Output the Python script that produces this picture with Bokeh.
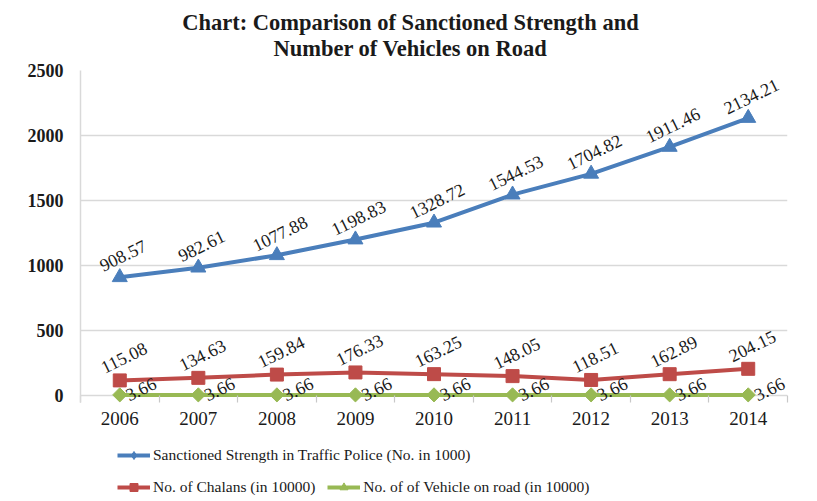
import numpy as np
from bokeh.plotting import figure
from bokeh.layouts import column
from bokeh.models import (ColumnDataSource, Range1d, FixedTicker, Label, Legend, LegendItem)
from bokeh.core.properties import value
from bokeh.embed import file_html
from bokeh.resources import INLINE

# ---- data ----
years = ["2006", "2007", "2008", "2009", "2010", "2011", "2012", "2013", "2014"]
sanctioned = [908.57, 982.61, 1077.88, 1198.83, 1328.72, 1544.53, 1704.82, 1911.46, 2134.21]
chalans = [115.08, 134.63, 159.84, 176.33, 163.25, 148.05, 118.51, 162.89, 204.15]
vehicles = [3.66, 3.66, 3.66, 3.66, 3.66, 3.66, 3.66, 3.66, 3.66]
y_ticks = [0, 500, 1000, 1500, 2000, 2500]
title_lines = ["Chart: Comparison of Sanctioned Strength and", "Number of Vehicles on Road"]
series_names = ["Sanctioned Strength in Traffic Police (No. in 1000)",
                "No. of Chalans (in 10000)",
                "No. of of Vehicle on road (in 10000)"]

BLUE = "#4a7ebb"
RED = "#be4b48"
GREEN = "#98b954"
SERIF = "Liberation Serif"
W = 817

xpos = list(range(1, len(years) + 1))
src = ColumnDataSource(dict(
    x=xpos, s=sanctioned, c=chalans, v=vehicles,
    s_lab=[f"{v:.2f}" for v in sanctioned],
    c_lab=[f"{v:.2f}" for v in chalans],
    v_lab=[f"{v:.2f}" for v in vehicles],
))


def blank_fig(h):
    f = figure(width=W, height=h, output_backend="svg", toolbar_location=None,
               x_axis_type=None, y_axis_type=None, min_border=0, title=None,
               x_range=Range1d(0, 1), y_range=Range1d(0, 1))
    f.outline_line_color = None
    f.grid.visible = False
    f.border_fill_color = "white"
    return f


# ---- title strip (frame aligned with main plot frame, left edge at 80px) ----
pt = blank_fig(62)
for i, t in enumerate(title_lines):
    pt.add_layout(Label(x=330, y=40 - 26 * i, x_units="screen", y_units="screen", text=t,
                        text_align="center", text_baseline="middle", text_font=SERIF,
                        text_font_style="bold", text_font_size="22.5px", text_color="#1a1a1a"))

# ---- main plot ----
p = figure(width=W, height=374, output_backend="svg", toolbar_location=None,
           x_range=Range1d(0.5, len(years) + 0.5), y_range=Range1d(-55, 2500),
           min_border_left=80, min_border_right=30, min_border_top=8, min_border_bottom=34,
           title=None)
p.outline_line_color = None
p.background_fill_color = "white"
p.border_fill_color = "white"

xa = p.xaxis[0]
xa.ticker = FixedTicker(ticks=xpos, minor_ticks=list(np.arange(0.5, len(years) + 1, 1.0)))
xa.major_label_overrides = {i: y for i, y in zip(xpos, years)}
xa.axis_line_color = None
xa.major_tick_line_color = None
xa.major_tick_out = 0
xa.major_tick_in = 0
xa.minor_tick_line_color = "#c8c8c8"
xa.minor_tick_line_width = 1.2
xa.minor_tick_out = 0
xa.minor_tick_in = 7
xa.major_label_standoff = 9
xa.major_label_text_font = SERIF
xa.major_label_text_font_size = "19px"
xa.major_label_text_color = "#1a1a1a"

ya = p.yaxis[0]
ya.ticker = FixedTicker(ticks=y_ticks)
ya.axis_line_color = "#d9d9d9"
ya.axis_line_width = 1.5
ya.major_tick_line_color = None
ya.minor_tick_line_color = None
ya.major_tick_out = 0
ya.major_tick_in = 0
ya.major_label_standoff = 17
ya.major_label_text_font = SERIF
ya.major_label_text_font_style = "bold"
ya.major_label_text_font_size = "18px"
ya.major_label_text_color = "#1a1a1a"

p.xgrid.visible = False
p.ygrid.grid_line_color = "#d9d9d9"
p.ygrid.grid_line_width = 1.5

p.line("x", "s", source=src, line_color=BLUE, line_width=4)
p.scatter("x", "s", source=src, marker="triangle", size=15, fill_color=BLUE, line_color=BLUE)
p.line("x", "c", source=src, line_color=RED, line_width=4)
p.scatter("x", "c", source=src, marker="square", size=13, fill_color=RED, line_color=RED)
p.line("x", "v", source=src, line_color=GREEN, line_width=4)
p.scatter("x", "v", source=src, marker="square", angle=np.pi / 4, size=10,
          fill_color=GREEN, line_color=GREEN)

ang = np.deg2rad(26)
lab_kw = dict(angle=ang, text_font=value(SERIF), text_font_size="18px", text_color="#1a1a1a",
              text_align="center", text_baseline="middle")
p.text("x", "s", text="s_lab", source=src, x_offset=3, y_offset=-22, **lab_kw)
p.text("x", "c", text="c_lab", source=src, x_offset=4, y_offset=-23, **lab_kw)
p.text("x", "v", text="v_lab", source=src, x_offset=21, y_offset=-6, **lab_kw)

# ---- legend strip (markers as drawn in the reference legend) ----
# The series are re-plotted here only to feed the legend; they fall outside this strip's
# 0..1 ranges and are clipped away, so only their legend glyphs show.
pl = blank_fig(65)
lb1 = pl.line("x", "s", source=src, line_color=BLUE, line_width=4)
mb1 = pl.scatter("x", "s", source=src, marker="diamond", size=14,
                 fill_color=BLUE, line_color=BLUE)
lb2 = pl.line("x", "c", source=src, line_color=RED, line_width=4)
mb2 = pl.scatter("x", "c", source=src, marker="square", size=12, fill_color=RED, line_color=RED)
lb3 = pl.line("x", "v", source=src, line_color=GREEN, line_width=4)
mb3 = pl.scatter("x", "v", source=src, marker="triangle", size=13, fill_color=GREEN, line_color=GREEN)

leg_kw = dict(orientation="horizontal", padding=0, margin=0, spacing=12, border_line_color=None,
              background_fill_alpha=0, glyph_width=33, glyph_height=20, label_height=20,
              label_standoff=3, label_text_font=SERIF, label_text_font_size="15.5px",
              label_text_color="#1a1a1a")
leg1 = Legend(items=[LegendItem(label=series_names[0], renderers=[lb1, mb1])],
              location=(37, 36), **leg_kw)
leg2 = Legend(items=[LegendItem(label=series_names[1], renderers=[lb2, mb2]),
                     LegendItem(label=series_names[2], renderers=[lb3, mb3])],
              location=(37, 4), **leg_kw)
pl.add_layout(leg1)
pl.add_layout(leg2)

layout = column(pt, p, pl, spacing=0)
open("out.html", "w").write(file_html(layout, INLINE))
